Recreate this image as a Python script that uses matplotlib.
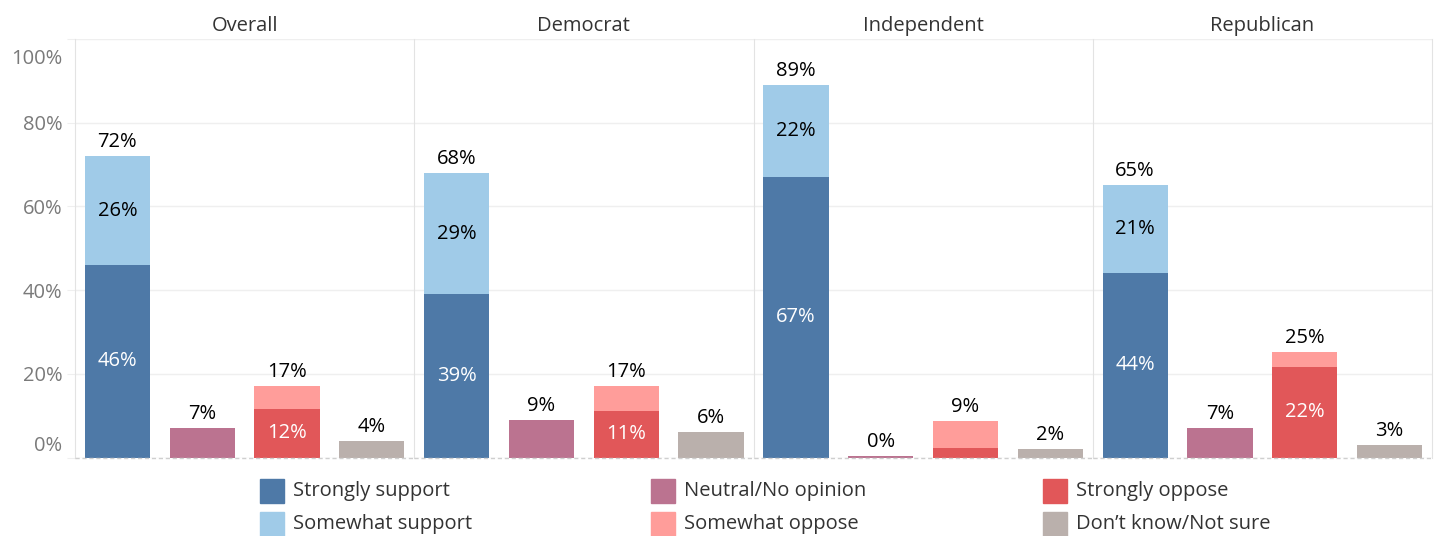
import matplotlib
matplotlib.use("Agg")
import matplotlib.pyplot as plt
from matplotlib.patches import Rectangle
from matplotlib.transforms import ScaledTranslation
import numpy as np

plt.rcParams['font.family'] = ['Open Sans', 'DejaVu Sans']

# Datos (porcentajes)
grupos = ["Overall", "Democrat", "Independent", "Republican"]
strongly_support = [46, 39, 67, 44]
somewhat_support = [26, 29, 22, 21]
neutral = [7, 9, 0.4, 7]
strongly_oppose = [11.6, 11, 2.3, 21.6]
somewhat_oppose = [5.4, 6, 6.5, 3.5]
no_sabe = [4, 6, 2, 3]

categorias = ["Strongly support", "Somewhat support", "Neutral/No opinion",
              "Somewhat oppose", "Strongly oppose", "Don\u2019t know/Not sure"]
colores = {
    "Strongly support": "#4e79a7",
    "Somewhat support": "#a0cbe8",
    "Neutral/No opinion": "#bb7390",
    "Strongly oppose": "#e15759",
    "Somewhat oppose": "#ff9d9a",
    "Don\u2019t know/Not sure": "#bab0ac",
}
yticks = [0, 20, 40, 60, 80, 100]

W, H = 1439, 536
fig, axes = plt.subplots(1, 4, figsize=(W / 100, H / 100), dpi=100, sharey=True)
fig.subplots_adjust(left=75 / W, right=1432 / W, bottom=1 - 457.5 / H, top=1 - 39 / H, wspace=0)

ancho = 0.77
fs = 14.5


def etiqueta_arriba(ax, x, valor):
    ax.annotate(f"{valor:.0f}%", (x, valor), xytext=(0, 3), textcoords='offset points',
                ha='center', va='bottom', fontsize=fs, color='black')


def etiqueta_dentro(ax, x, y, valor, color):
    ax.text(x, y, f"{valor:.0f}%", ha='center', va='center', fontsize=fs, color=color)


for i, ax in enumerate(axes):
    ss, sws = strongly_support[i], somewhat_support[i]
    so, swo = strongly_oppose[i], somewhat_oppose[i]

    ax.bar(0, ss, width=ancho, color=colores["Strongly support"])
    ax.bar(0, sws, bottom=ss, width=ancho, color=colores["Somewhat support"])
    ax.bar(1, neutral[i], width=ancho, color=colores["Neutral/No opinion"])
    ax.bar(2, so, width=ancho, color=colores["Strongly oppose"])
    ax.bar(2, swo, bottom=so, width=ancho, color=colores["Somewhat oppose"])
    ax.bar(3, no_sabe[i], width=ancho, color=colores["Don\u2019t know/Not sure"])

    etiqueta_arriba(ax, 0, ss + sws)
    etiqueta_dentro(ax, 0, ss / 2, ss, 'white')
    etiqueta_dentro(ax, 0, ss + sws / 2, sws, 'black')
    etiqueta_arriba(ax, 1, neutral[i])
    etiqueta_arriba(ax, 2, so + swo)
    if so >= 5:
        etiqueta_dentro(ax, 2, so / 2, so, 'white')
    etiqueta_arriba(ax, 3, no_sabe[i])

    ax.set_xlim(-0.5, 3.5)
    ax.set_ylim(0, 100)
    ax.set_xticks([])
    ax.set_yticks(yticks)
    ax.yaxis.grid(True, color='#efefef', lw=1)
    ax.set_axisbelow(True)
    ax.axhline(0, color='#cfcfcf', lw=1, ls=(0, (3, 2)), clip_on=False, zorder=3)

    for lado in ['top', 'bottom', 'right']:
        ax.spines[lado].set_visible(False)
    ax.spines['left'].set_color('#e3e3e3')
    if i == 3:
        ax.spines['right'].set_visible(True)
        ax.spines['right'].set_color('#e3e3e3')

    ax.set_title(grupos[i], fontsize=fs, color='#333333', pad=6)

    if i == 0:
        ax.set_yticklabels([f"{t}%" for t in yticks])
        ax.tick_params(axis='y', length=6, color='#efefef', labelcolor='#7a7a7a',
                       labelsize=fs, pad=3)
    else:
        ax.tick_params(axis='y', left=False, labelleft=False)

# Mover las etiquetas extremas hacia adentro (estilo Tableau)
fig.canvas.draw()
etiquetas = axes[0].get_yticklabels()
etiquetas[-1].set_transform(etiquetas[-1].get_transform() + ScaledTranslation(0, -18 / 100, fig.dpi_scale_trans))
etiquetas[0].set_transform(etiquetas[0].get_transform() + ScaledTranslation(0, 14 / 100, fig.dpi_scale_trans))

# Leyenda manual en 3 columnas
col_x = [260, 651, 1043]
fila_y = [491, 524]
orden = [["Strongly support", "Somewhat support"],
         ["Neutral/No opinion", "Somewhat oppose"],
         ["Strongly oppose", "Don\u2019t know/Not sure"]]
for c, columna in enumerate(orden):
    for f, nombre in enumerate(columna):
        x0, yc = col_x[c], fila_y[f]
        fig.add_artist(Rectangle((x0 / W, 1 - (yc + 12) / H), 24 / W, 24 / H,
                                 transform=fig.transFigure, color=colores[nombre]))
        fig.text((x0 + 33) / W, 1 - yc / H, nombre, ha='left', va='center',
                 fontsize=fs, color='#333333')

plt.savefig("out.png", dpi=100)
